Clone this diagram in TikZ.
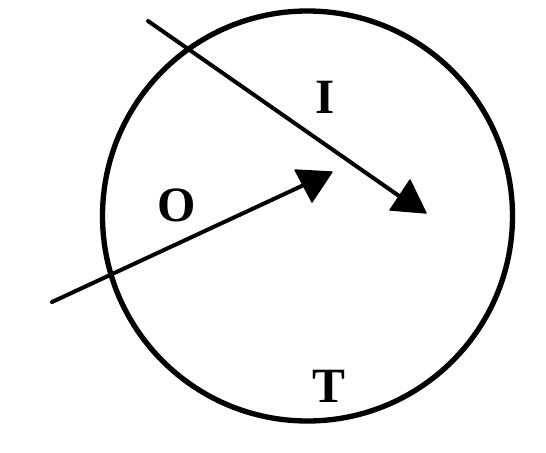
\documentclass[tikz,border=0pt]{standalone}
\usepackage{fontspec}
\setmainfont{Liberation Serif}
\begin{document}
\begin{tikzpicture}[x=0.75pt,y=-0.75pt,
  ring/.style={line width=4pt},
  ray/.style={line width=3pt, line cap=round},
  head/.style={fill=black, draw=black, line width=1pt, line join=round},
  lab/.style={font=\fontsize{37}{37}\selectfont\bfseries, inner sep=0pt}]
\useasboundingbox (0,0) rectangle (546,453);
% circle
\node[circle, draw, ring, minimum size=410*0.75pt, inner sep=0pt] (c) at (307.5,216) {};
% ray I
\coordinate (i0) at (148,21);
\coordinate (i1) at (402,198);
\draw[ray] (i0) -- (i1);
\path[head] (390,210) -- (410,180) -- (426,213) -- cycle;
% ray O
\coordinate (o0) at (52,302);
\coordinate (o1) at (306,184);
\draw[ray] (o0) -- (o1);
\path[head] (295,170) -- (332,172) -- (312,202) -- cycle;
% labels
\node[lab] (I) at (325,97) {I};
\node[lab] (O) at (177,205) {O};
\node[lab] (T) at (329,386) {T};
\end{tikzpicture}
\end{document}
